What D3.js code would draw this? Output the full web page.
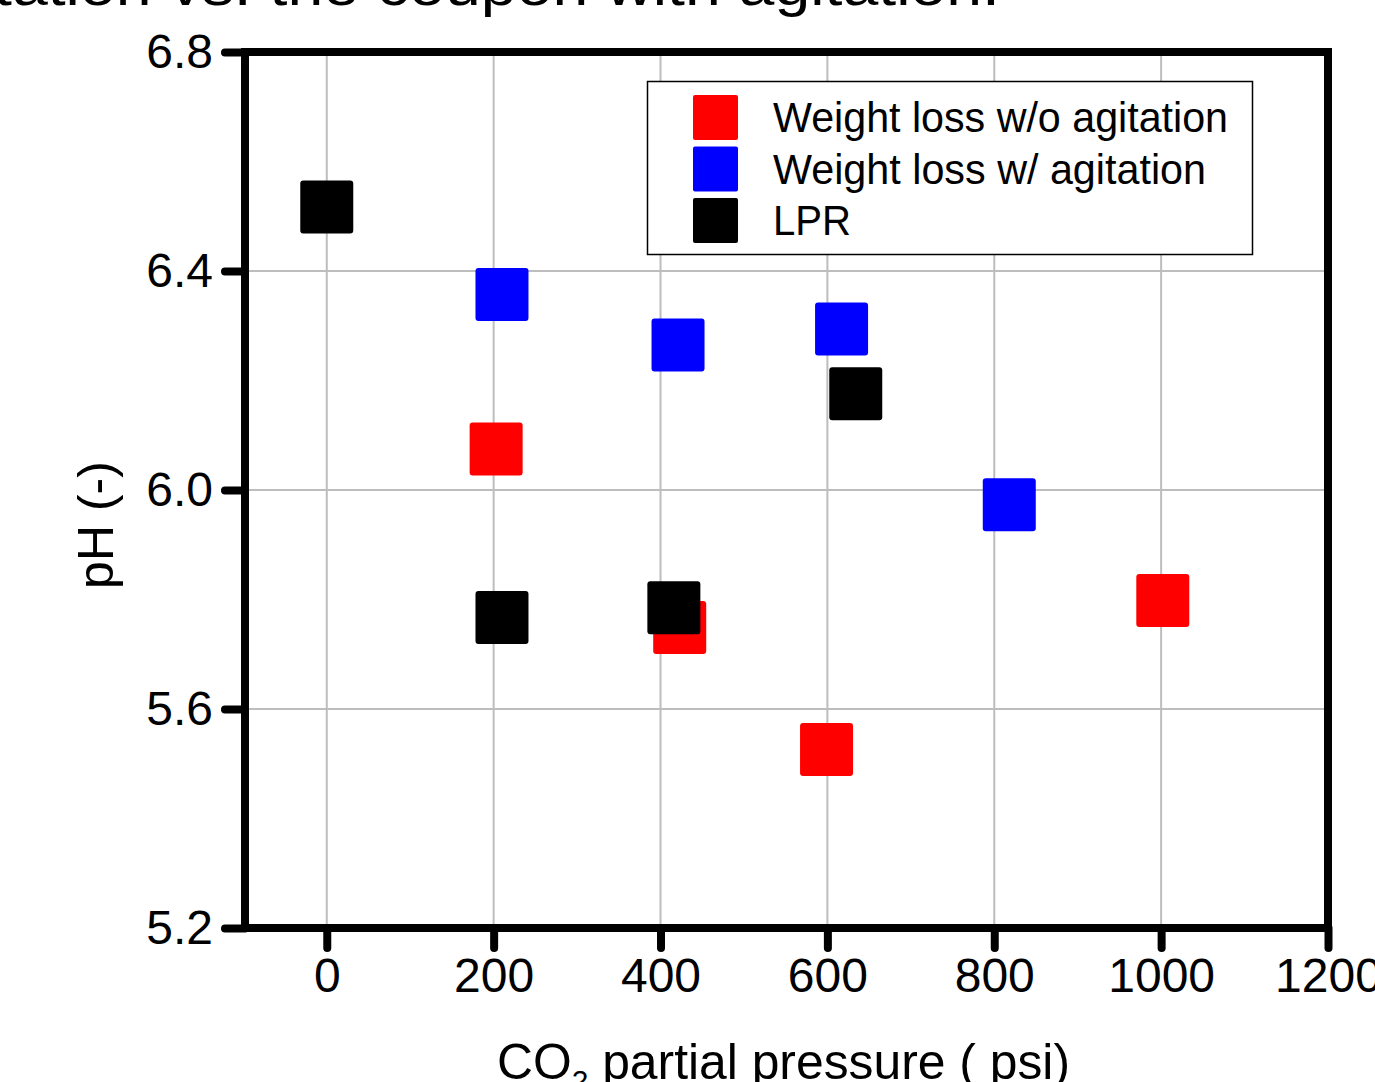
<!DOCTYPE html>
<html>
<head>
<meta charset="utf-8">
<script src="https://cdn.jsdelivr.net/npm/d3@7"></script>
<style>
  body { margin: 0; background: #fff; }
  svg { display: block; font-family: "Liberation Sans", Arial, sans-serif; }
</style>
</head>
<body>
<svg id="chart" width="1375" height="1082"></svg>
<script>
// data
const seriesNames = ['Weight loss w/o agitation', 'Weight loss w/ agitation', 'LPR'];
const seriesColors = ['#ff0000', '#0000ff', '#000000'];

const redX = [203, 423, 599, 1002];
const redY = [6.075, 5.749, 5.526, 5.798];
const blueX = [210, 421, 617, 818];
const blueY = [6.357, 6.265, 6.294, 5.973];
const blackX = [0, 210, 416, 634];
const blackY = [6.517, 5.767, 5.785, 6.176];

const xTicks = [0, 200, 400, 600, 800, 1000, 1200];
const yTicks = [5.2, 5.6, 6.0, 6.4, 6.8];

const svg = d3.select('#chart');
const plotL = 245, plotR = 1328, plotT = 52, plotB = 928;

const x = d3.scaleLinear().domain([-98, 1200]).range([plotL, plotR]);
const y = d3.scaleLinear().domain([5.2, 6.8]).range([plotB, plotT]);

// cut-off title at top
svg.append('text')
  .attr('x', -6).attr('y', 5)
  .attr('font-size', 55)
  .attr('textLength', 1006).attr('lengthAdjust', 'spacingAndGlyphs')
  .text('tation vs. the coupon with agitation.');

// grid
svg.append('g').selectAll('line').data(xTicks.slice(0, -1)).join('line')
  .attr('x1', d => x(d)).attr('x2', d => x(d))
  .attr('y1', plotT).attr('y2', plotB)
  .attr('stroke', '#bdbdbd').attr('stroke-width', 2);
svg.append('g').selectAll('line').data(yTicks.slice(1, -1)).join('line')
  .attr('x1', plotL).attr('x2', plotR)
  .attr('y1', d => y(d)).attr('y2', d => y(d))
  .attr('stroke', '#bdbdbd').attr('stroke-width', 2);

// axes
const xAxis = svg.append('g')
  .attr('transform', `translate(0,${plotB})`)
  .call(d3.axisBottom(x).tickValues(xTicks).tickSize(20).tickPadding(10).tickFormat(d3.format('d')));
const yAxis = svg.append('g')
  .attr('transform', `translate(${plotL},0)`)
  .call(d3.axisLeft(y).tickValues(yTicks).tickSize(20).tickPadding(12).tickFormat(d3.format('.1f')));

[xAxis, yAxis].forEach(g => {
  g.select('.domain').remove();
  g.selectAll('line').attr('stroke', '#000').attr('stroke-width', 8).attr('stroke-linecap', 'round');
  g.selectAll('text').attr('font-size', 48).attr('fill', '#000')
    .attr('font-family', '"Liberation Sans", Arial, sans-serif');
});

// frame
svg.append('rect')
  .attr('x', plotL).attr('y', plotT)
  .attr('width', plotR - plotL).attr('height', plotB - plotT)
  .attr('fill', 'none').attr('stroke', '#000').attr('stroke-width', 8);

// points
const seriesData = [
  redX.map((v, i) => ({ x: v, y: redY[i] })),
  blueX.map((v, i) => ({ x: v, y: blueY[i] })),
  blackX.map((v, i) => ({ x: v, y: blackY[i] }))
];
const s = 53;
seriesData.forEach((pts, k) => {
  svg.append('g').selectAll('rect').data(pts).join('rect')
    .attr('x', d => x(d.x) - s / 2).attr('y', d => y(d.y) - s / 2)
    .attr('width', s).attr('height', s).attr('rx', 3)
    .attr('fill', seriesColors[k]);
});

// legend
const lg = svg.append('g');
lg.append('rect')
  .attr('x', 647.5).attr('y', 81.5).attr('width', 605).attr('height', 173)
  .attr('fill', '#fff').attr('stroke', '#000').attr('stroke-width', 1.5);
const legendWidths = [455, 433, 78];
seriesNames.forEach((name, i) => {
  const cy = 117 + i * 51.5;
  lg.append('rect')
    .attr('x', 693).attr('y', cy - 22).attr('width', 45).attr('height', 45).attr('rx', 2)
    .attr('fill', seriesColors[i]);
  lg.append('text')
    .attr('x', 773).attr('y', cy + 15)
    .attr('font-size', 42)
    .attr('textLength', legendWidths[i]).attr('lengthAdjust', 'spacingAndGlyphs')
    .text(name);
});

// axis titles
const xt = svg.append('text')
  .attr('x', 497).attr('y', 1079)
  .attr('font-size', 50)
  .attr('textLength', 573).attr('lengthAdjust', 'spacingAndGlyphs');
xt.append('tspan').text('CO');
xt.append('tspan').attr('font-size', 30).attr('dy', 12).text('2');
xt.append('tspan').attr('dy', -12).text(' partial pressure ( psi)');

svg.append('text')
  .attr('transform', 'translate(113,525) rotate(-90)')
  .attr('text-anchor', 'middle').attr('font-size', 50)
  .text('pH (-)');
</script>
</body>
</html>
